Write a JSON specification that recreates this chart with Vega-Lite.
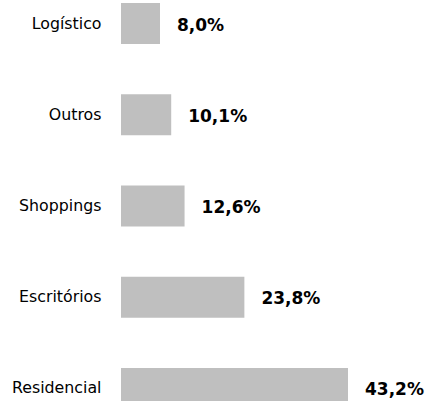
{
  "$schema": "https://vega.github.io/schema/vega-lite/v6.json",
  "autosize": "none",
  "width": 309,
  "height": 401,
  "padding": {"left": 121, "top": 0, "right": 0, "bottom": 0},
  "background": "white",
  "data": {
    "values": [
      {"segmento": "Logístico", "pct": 8.0},
      {"segmento": "Outros", "pct": 10.1},
      {"segmento": "Shoppings", "pct": 12.6},
      {"segmento": "Escritórios", "pct": 23.8},
      {"segmento": "Residencial", "pct": 43.2}
    ]
  },
  "transform": [
    {"calculate": "format(datum.pct, '.1f') + '%'", "as": "rotulo"}
  ],
  "encoding": {
    "y": {
      "field": "segmento",
      "type": "nominal",
      "sort": null,
      "title": null,
      "scale": {"range": [3, 409], "paddingInner": 0.55, "paddingOuter": 0},
      "axis": {
        "domain": false,
        "ticks": false,
        "labelPadding": 20,
        "labelFont": "DejaVu Sans",
        "labelFontSize": 15.8,
        "labelColor": "#000000"
      }
    },
    "x": {
      "field": "pct",
      "type": "quantitative",
      "title": null,
      "axis": null,
      "scale": {"domain": [0.7, 43.2], "range": [0, 227], "zero": false}
    }
  },
  "layer": [
    {"mark": {"type": "bar", "color": "#bfbfbf", "clip": true}},
    {
      "mark": {
        "type": "text",
        "align": "left",
        "baseline": "middle",
        "dx": 17,
        "dy": 2,
        "font": "DejaVu Sans",
        "fontSize": 17,
        "fontWeight": "bold",
        "color": "#000000"
      },
      "encoding": {
        "text": {"field": "rotulo", "type": "nominal"}
      }
    }
  ],
  "config": {
    "view": {"stroke": null},
    "locale": {"number": {"decimal": ",", "thousands": ".", "grouping": [3], "currency": ["R$", ""], "percent": "%"}}
  }
}
